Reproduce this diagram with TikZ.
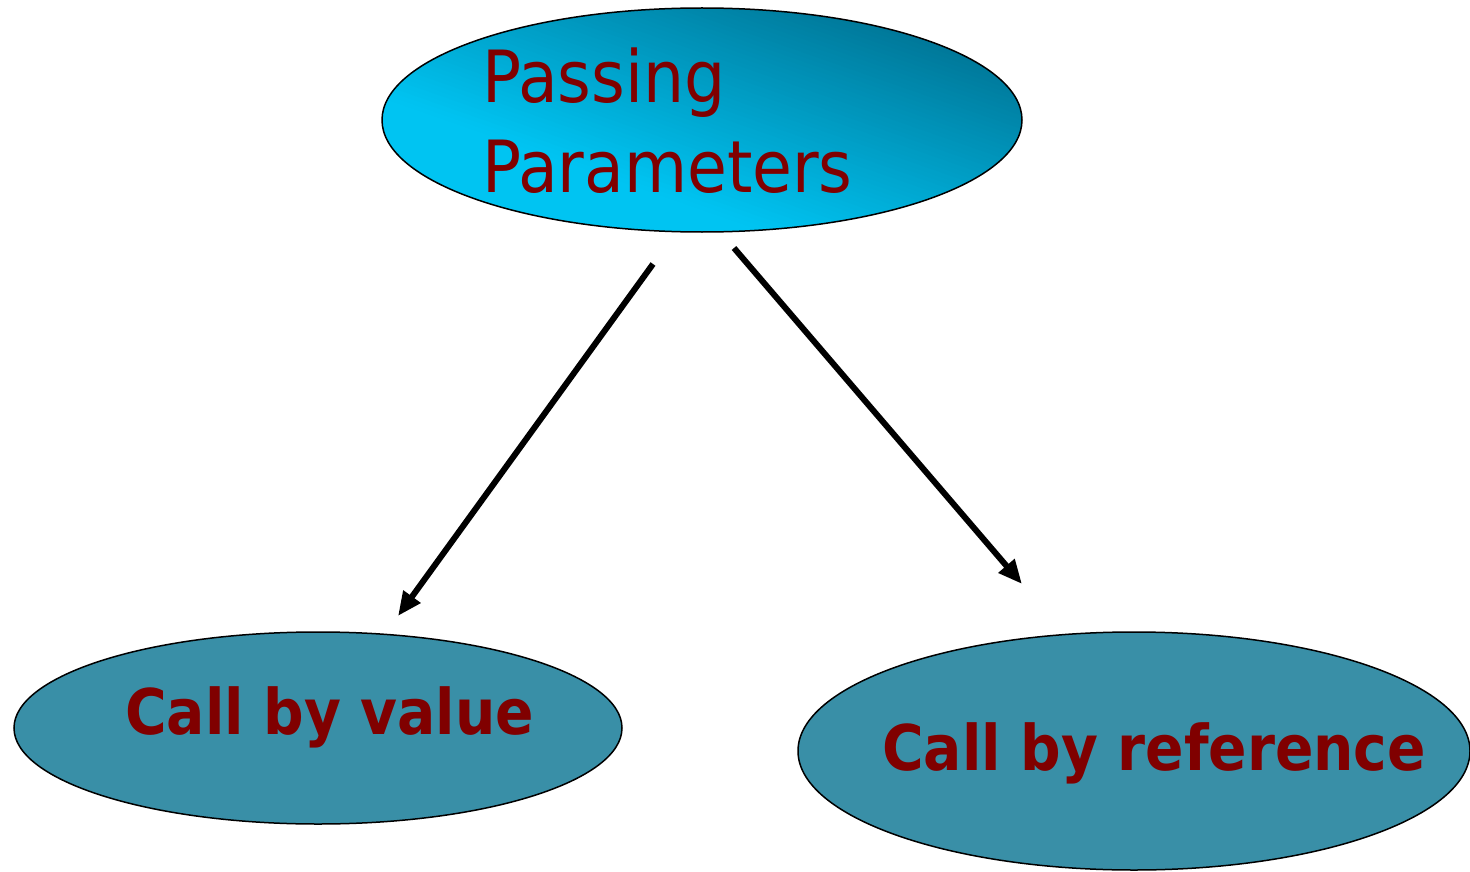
\documentclass[tikz,border=0pt]{standalone}
\usepackage{fontspec}
\setmainfont{DejaVu Sans Condensed}
\usetikzlibrary{shapes.geometric,arrows.meta}
\definecolor{txtred}{RGB}{128,0,0}
\definecolor{topdark}{RGB}{0,100,130}
\definecolor{toplight}{RGB}{0,196,242}
\definecolor{tealfill}{RGB}{57,143,167}
\tikzset{
  oval/.style={ellipse, draw=black, line width=1.5pt, inner sep=0pt},
  lbl/.style={anchor=base west, inner sep=0pt, text=txtred},
  conn/.style={line width=6pt, -{Triangle[length=24pt,width=20pt]}},
}
\begin{document}
\begin{tikzpicture}[x=1pt,y=-1pt]
\useasboundingbox (0,0) rectangle (1470,872);
\begin{scope}
  \clip (702,120) ellipse [x radius=320, y radius=112];
  \begin{scope}[shift={(702,120)}, x=320pt, y=112pt]
    \foreach \s in {-2.00,-1.96,...,1.97} {
      \pgfmathsetmacro{\f}{max(0,min(100,((0.5+(\s+0.02)/4)-0.3)/0.7*100))}
      \fill[topdark!\f!toplight]
        (\s-2,2) -- (\s+2,-2) -- (\s+2.05,-2) -- (\s-1.95,2) -- cycle;
    }
  \end{scope}
\end{scope}
\node[oval, minimum width=640pt, minimum height=224pt] (top) at (702,120) {};
\node[oval, minimum width=608pt, minimum height=192pt, fill=tealfill] (left) at (318,728) {};
\node[oval, minimum width=672pt, minimum height=238pt, fill=tealfill] (right) at (1134,751) {};
\node[lbl, font=\fontsize{72}{90}\selectfont] (t1) at (482,103) {Passing};
\node[lbl, font=\fontsize{72}{90}\selectfont] (t2) at (482,193) {Parameters};
\node[lbl, font=\bfseries\fontsize{63}{70}\selectfont] (l1) at (125,734) {Call by value};
\node[lbl, font=\bfseries\fontsize{63}{70}\selectfont] (r1) at (882,770) {Call by reference};
\coordinate (a1s) at (653,264);
\coordinate (a1e) at (398,616);
\coordinate (a2s) at (734,248);
\coordinate (a2e) at (1022,584);
\draw[conn] (a1s) -- (a1e);
\draw[conn] (a2s) -- (a2e);
\end{tikzpicture}
\end{document}
